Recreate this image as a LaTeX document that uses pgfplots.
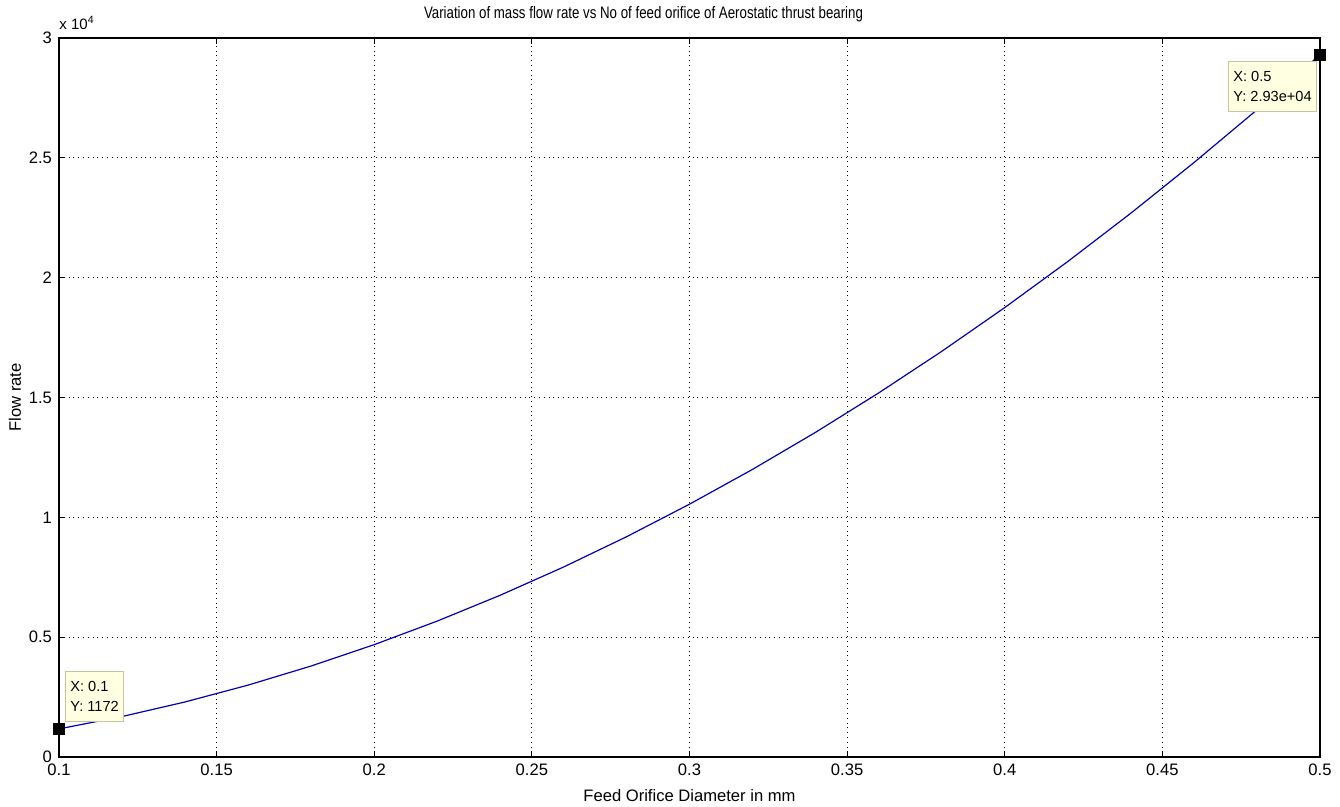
\documentclass[border=0pt]{standalone}
\usepackage{fontspec}
\setmainfont{Liberation Sans}
\usepackage{graphicx}
\usepackage{pgfplots}
\pgfplotsset{compat=1.18}
\definecolor{tipfill}{RGB}{255,255,225}
\definecolor{tipdraw}{RGB}{200,195,160}
\begin{document}
\begin{tikzpicture}
\begin{axis}[
  name=ax,
  scale only axis,
  width=630.5pt, height=359.5pt,
  xmin=0.1, xmax=0.5, ymin=0, ymax=30000,
  scaled y ticks=false, scaled x ticks=false,
  xtick={0.1,0.15,...,0.5},
  xticklabels={0.1,0.15,0.2,0.25,0.3,0.35,0.4,0.45,0.5},
  ytick={0,5000,10000,15000,20000,25000,30000},
  yticklabels={0,0.5,1,1.5,2,2.5,3},
  tick pos=both, tick align=inside,
  major tick length=3pt,
  grid=major,
  major grid style={black, dotted, line width=0.5pt},
  axis line style={black, line width=0.6pt},
  every tick/.style={black, line width=0.6pt},
  tick label style={font=\fontsize{8.3}{10}\selectfont},
  /pgf/number format/assume math mode=true,
  label style={font=\fontsize{8.3}{10}\selectfont},
  xlabel={Feed Orifice Diameter in mm},
  xlabel style={at={(axis description cs:0.5,-0.053)}, anchor=center},
  ylabel={Flow rate},
  ylabel style={at={(axis description cs:-0.035,0.5)}, anchor=center},
  clip=false,
]
\addplot[blue!70!black, line width=0.6pt] coordinates {
(0.10,1172) (0.12,1688) (0.14,2297) (0.16,3000) (0.18,3797)
(0.20,4688) (0.22,5672) (0.24,6751) (0.26,7923) (0.28,9188)
(0.30,10548) (0.32,12001) (0.34,13548) (0.36,15189) (0.38,16924)
(0.40,18752) (0.42,20674) (0.44,22690) (0.46,24800) (0.48,27003)
(0.50,29300)};
\addplot[only marks, mark=square*, mark size=2.8pt, black] coordinates {(0.1,1172) (0.5,29300)};
\node[anchor=south west, fill=tipfill, draw=tipdraw, line width=0.4pt, align=left,
  font=\fontsize{7.3}{10}\selectfont, inner sep=2.5pt, minimum height=25pt, minimum width=29pt]
  at (axis cs:0.1019,1460) {X: 0.1\\Y: 1172};
\node[anchor=south west, fill=tipfill, draw=tipdraw, line width=0.4pt, align=left,
  font=\fontsize{7.3}{10}\selectfont, inner sep=2.5pt, minimum height=25pt, minimum width=42.5pt]
  at (axis cs:0.4708,26912) {X: 0.5\\Y: 2.93e+04};
\node[anchor=base west, font=\fontsize{7.5}{9}\selectfont, inner sep=0pt]
  at ([yshift=4pt]rel axis cs:0,1) {x 10\textsuperscript{4}};
\node[anchor=center, font=\fontsize{8.3}{10}\selectfont, inner sep=0pt]
  at ([xshift=-23pt,yshift=12pt]rel axis cs:0.5,1) {\scalebox{0.8}[1]{Variation of mass flow rate vs No of feed orifice of Aerostatic thrust bearing}};
\end{axis}
\pgfresetboundingbox
\path[use as bounding box] ([xshift=-29.5pt,yshift=-25pt]ax.south west) rectangle ([xshift=10pt,yshift=19pt]ax.north east);
\end{tikzpicture}
\end{document}
